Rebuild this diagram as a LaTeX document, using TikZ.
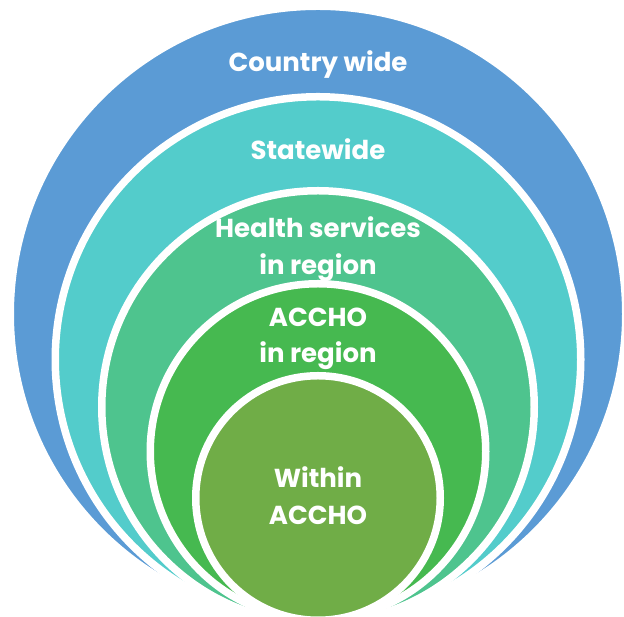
\documentclass[tikz,border=0pt]{standalone}
\usepackage{fontspec}
\setmainfont{Poppins}
\definecolor{cBlue}{HTML}{5B9BD5}
\definecolor{cCyan}{HTML}{53CCCB}
\definecolor{cTeal}{HTML}{4EC48E}
\definecolor{cGreen}{HTML}{46B950}
\definecolor{cOlive}{HTML}{70AD47}
\tikzset{
  ring/.style={draw=white, line width=7.5pt},
  lbl/.style={text=white, font=\fontsize{26}{36.5}\selectfont\bfseries, align=center, inner sep=0pt}
}
\begin{document}
\begin{tikzpicture}[x=1pt,y=1pt]
\useasboundingbox (0,0) rectangle (624,617);
\clip (0,0) rectangle (624,617);
\fill[white] (0,0) rectangle (624,617);
\path[ring, fill=cBlue]  (318,303)   circle[radius=307.75pt];
\path[ring, fill=cCyan]  (318,257.5) circle[radius=262.75pt];
\path[ring, fill=cTeal]  (318,210)   circle[radius=216.25pt];
\path[ring, fill=cGreen] (318,165.5) circle[radius=167.75pt];
\path[ring, fill=cOlive] (318,119)   circle[radius=122.25pt];
\node[lbl, anchor=base] (country) at (318,545) {Country wide};
\node[lbl, anchor=base] (state) at (318,457) {Statewide};
\node[lbl] (health) at (318,368) {Health services\\in region};
\node[lbl] (regacc) at (318,278) {ACCHO\\in region};
\node[lbl] (within) at (318,121.5) {Within\\ACCHO};
\end{tikzpicture}
\end{document}
